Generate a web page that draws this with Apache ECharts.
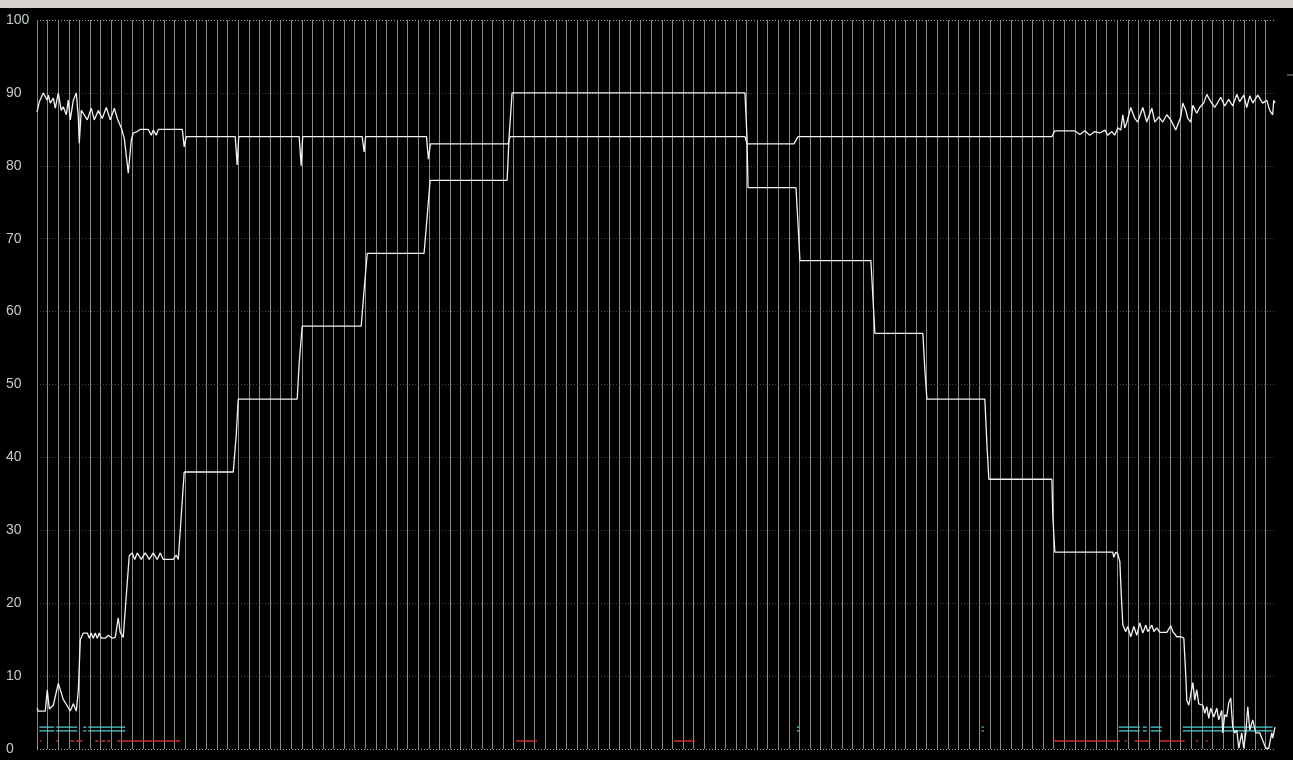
<!DOCTYPE html>
<html>
<head>
<meta charset="utf-8">
<style>
  html, body { margin: 0; padding: 0; background: #000; }
  #chart { width: 1293px; height: 760px; }
</style>
<script src="https://cdn.jsdelivr.net/npm/echarts@6/dist/echarts.min.js"></script>
</head>
<body>
<div id="chart"></div>
<script>
// ---- data (x in grid-interval units, y in percent) ----
const yTicks = [0, 10, 20, 30, 40, 50, 60, 70, 80, 90, 100];

const rampLine = [
  [0,5.6],[0.12,5.2],[0.78,5.2],[0.97,8.1],[1.16,5.5],[1.54,6.0],[2.01,9.0],[2.48,6.8],[2.86,5.9],
  [3.14,5.2],[3.43,6.2],[3.71,5.2],[3.90,8.0],[4.09,15.0],[4.37,15.9],[4.75,15.9],[4.94,15.2],
  [5.12,15.9],[5.31,15.2],[5.50,15.9],[5.69,15.2],[5.88,15.9],[6.07,15.2],[6.45,15.2],[6.73,15.6],
  [7.11,15.2],[7.39,15.3],[7.67,18.0],[7.86,16.0],[8.14,15.3],[8.43,21.0],[8.71,26.5],[8.99,26.9],
  [9.23,26.0],[9.47,26.9],[9.84,26.0],[10.22,26.9],[10.60,26.0],[10.98,26.9],[11.35,26.0],[11.64,26.9],
  [11.92,26.0],[12.86,26.0],[13.15,26.6],[13.34,26.0],[13.62,32.0],[13.90,38.0],
  [18.53,38.0],[18.81,43.0],[19.00,48.0],
  [24.57,48.0],[24.76,53.0],[25.04,58.0],
  [30.61,58.0],[30.89,63.0],[31.18,68.0],
  [36.55,68.0],[36.84,73.0],[37.12,78.0],
  [44.39,78.0],[44.58,84.0],[44.86,90.0],
  [66.85,90.0],[67.04,84.0],[67.14,77.0],
  [71.67,77.0],[71.86,72.0],[72.04,67.0],
  [78.74,67.0],[78.93,62.0],[79.12,57.0],
  [83.65,57.0],[83.84,52.0],[84.03,48.0],
  [89.50,48.0],[89.69,42.0],[89.88,37.0],
  [95.83,37.0],[95.92,32.0],[96.11,27.0],
  [101.58,27.0],[101.68,26.3],[101.86,27.0],[102.05,26.8],[102.25,25.7],[102.39,21.0],[102.53,17.0],
  [102.81,16.1],[103.00,16.8],[103.28,15.4],[103.57,16.8],[103.85,15.6],[104.13,17.3],[104.42,15.9],
  [104.70,17.0],[104.89,16.1],[105.27,17.0],[105.46,16.1],[105.74,16.6],[106.02,16.0],[106.68,16.0],
  [107.06,16.9],[107.25,16.1],[107.63,15.4],[108.00,15.4],[108.29,15.2],[108.48,10.0],[108.57,6.7],
  [108.76,6.0],[109.14,9.1],[109.32,6.7],[109.51,8.1],[109.70,6.2],[110.08,6.0],[110.27,4.9],
  [110.46,5.8],[110.65,4.2],[110.83,5.6],[111.12,4.4],[111.40,5.6],[111.59,4.0],[111.87,5.3],
  [111.97,2.2],[112.15,4.7],[112.34,4.4],[112.53,6.3],[112.72,7.0],[112.91,3.0],[113.10,2.2],
  [113.29,2.6],[113.48,0.1],[113.76,2.2],[113.95,0.1],[114.14,2.2],[114.33,5.8],[114.52,2.6],
  [114.80,4.0],[115.08,2.2],[115.46,2.2],[115.74,1.2],[116.03,0.1],[116.31,0.1],[116.59,2.2],
  [116.68,1.5],[116.9,3.0]
];

const topLine = [
  [0,87.4],[0.22,88.8],[0.59,90.0],[0.97,89.0],[1.07,89.7],[1.26,88.6],[1.54,89.3],[1.73,87.9],
  [2.01,90.0],[2.29,87.6],[2.48,88.1],[2.77,87.0],[2.95,89.0],[3.14,86.3],[3.43,89.0],[3.71,90.0],
  [3.90,86.7],[3.99,83.1],[4.18,87.6],[4.37,87.2],[4.75,86.3],[5.12,87.9],[5.41,86.3],[5.79,87.6],
  [6.16,86.5],[6.54,88.0],[6.92,86.3],[7.30,87.9],[7.58,86.5],[7.96,85.2],[8.24,83.8],[8.62,79.0],
  [8.90,83.5],[9.09,84.5],[9.47,84.7],[9.75,85.0],[10.50,85.0],[10.79,84.2],[10.98,84.9],[11.26,84.2],
  [11.45,85.0],[13.72,85.0],[13.90,82.6],[14.09,84.0],
  [18.72,84.0],[18.90,80.1],[19.05,84.0],
  [24.76,84.0],[24.94,80.0],[25.09,84.0],
  [30.70,84.0],[30.89,81.9],[31.03,84.0],
  [36.78,84.0],[36.96,80.9],[37.15,83.0],
  [44.48,83.0],[44.67,84.0],
  [66.85,84.0],[67.04,83.0],[71.48,83.0],[71.86,84.0],
  [95.83,84.0],[96.11,84.8],[97.99,84.8],[98.47,84.3],[98.94,84.8],[99.41,84.2],[99.88,84.7],
  [100.36,84.5],[100.83,84.9],[101.11,84.2],[101.49,84.7],[101.77,84.2],[102.05,85.2],[102.34,84.9],
  [102.53,87.0],[102.71,85.2],[102.90,85.9],[103.28,88.0],[103.66,86.5],[103.94,86.0],[104.42,88.0],
  [104.79,86.0],[105.27,87.9],[105.55,86.0],[105.93,86.7],[106.30,86.0],[106.68,87.0],[107.06,86.3],
  [107.53,84.9],[108.00,86.7],[108.19,88.6],[108.48,87.6],[108.66,86.5],[108.95,86.0],[109.14,88.3],
  [109.51,87.2],[109.79,88.0],[110.17,88.6],[110.46,89.8],[110.83,88.8],[111.21,88.0],[111.78,89.4],
  [112.15,88.2],[112.53,89.1],[112.91,88.2],[113.29,89.8],[113.57,88.8],[113.95,89.7],[114.23,88.0],
  [114.52,89.6],[114.80,88.6],[115.27,89.7],[115.74,88.6],[116.12,89.0],[116.40,87.6],[116.68,87.0],
  [116.78,89.0],[116.9,88.6]
];

// status markers: [startX, endX]
const cyanSegments = [
  [0.22,1.63],[1.82,3.80],[4.37,4.65],[4.84,8.33],
  [71.76,71.95],[89.21,89.40],
  [102.15,104.13],[104.42,104.79],[105.17,106.21],[108.19,116.68]
];
const cyanLevels = [3.0, 2.5];

const redSegments = [
  [0.26,0.41],[1.82,2.01],[3.14,3.52],[3.71,4.28],[5.50,5.79],[6.07,6.45],[6.63,6.92],[7.58,13.52],
  [45.24,47.22],[60.15,62.13],
  [95.92,102.25],[102.71,102.90],[103.66,105.08],[106.02,108.38],[109.42,109.61],[110.36,110.55]
];
const redLevel = 1.1;

// ---- build ----
function segData(segs, y) {
  const out = [];
  segs.forEach(function (s) {
    out.push([s[0], y]);
    out.push([s[1], y]);
    out.push(['-', '-']);
  });
  return out;
}

const hColors = yTicks.map(function (v, i) {
  return (i === 0 || i === yTicks.length - 1) ? '#8fae88' : '#2c4c58';
});

const chart = echarts.init(document.getElementById('chart'), null, { renderer: 'canvas' });

const series = [];
cyanLevels.forEach(function (lv) {
  series.push({
    type: 'line', data: segData(cyanSegments, lv), showSymbol: false, connectNulls: false,
    lineStyle: { color: '#4fcfcf', width: 1.2 }, silent: true, z: 3
  });
});
series.push({
  type: 'line', data: segData(redSegments, redLevel), showSymbol: false, connectNulls: false,
  lineStyle: { color: '#c83232', width: 1.6 }, silent: true, z: 3
});
series.push({
  type: 'line', data: topLine, showSymbol: false,
  lineStyle: { color: '#f2f2f2', width: 1.3 }, silent: true, z: 4
});
series.push({
  type: 'line', data: rampLine, showSymbol: false,
  lineStyle: { color: '#f2f2f2', width: 1.3 }, silent: true, z: 4
});

chart.setOption({
  backgroundColor: '#000000',
  animation: false,
  grid: { left: 37, right: 18, top: 20, bottom: 11, containLabel: false },
  graphic: [
    { type: 'rect', shape: { x: 0, y: 0, width: 1293, height: 8 }, style: { fill: '#d6d3ce' }, silent: true },
    { type: 'line', shape: { x1: 1287, y1: 75, x2: 1293, y2: 75 }, style: { stroke: '#9a9a9a', lineWidth: 1 }, silent: true }
  ],
  xAxis: {
    type: 'value', min: 0, max: 116.9, interval: 1,
    axisLine: { show: false }, axisTick: { show: false }, axisLabel: { show: false },
    splitLine: { show: true, showMaxLine: false, lineStyle: { color: '#8c8c8c', width: 1 } }
  },
  yAxis: {
    type: 'value', min: 0, max: 100, interval: 10,
    axisLine: { show: false }, axisTick: { show: false },
    axisLabel: {
      show: true, align: 'left', margin: 31, color: '#c4cccc',
      fontFamily: 'Liberation Sans, Arial, sans-serif', fontSize: 14
    },
    splitLine: { show: true, lineStyle: { color: hColors, width: 1, type: [1, 2] } }
  },
  series: series
});
</script>
</body>
</html>
